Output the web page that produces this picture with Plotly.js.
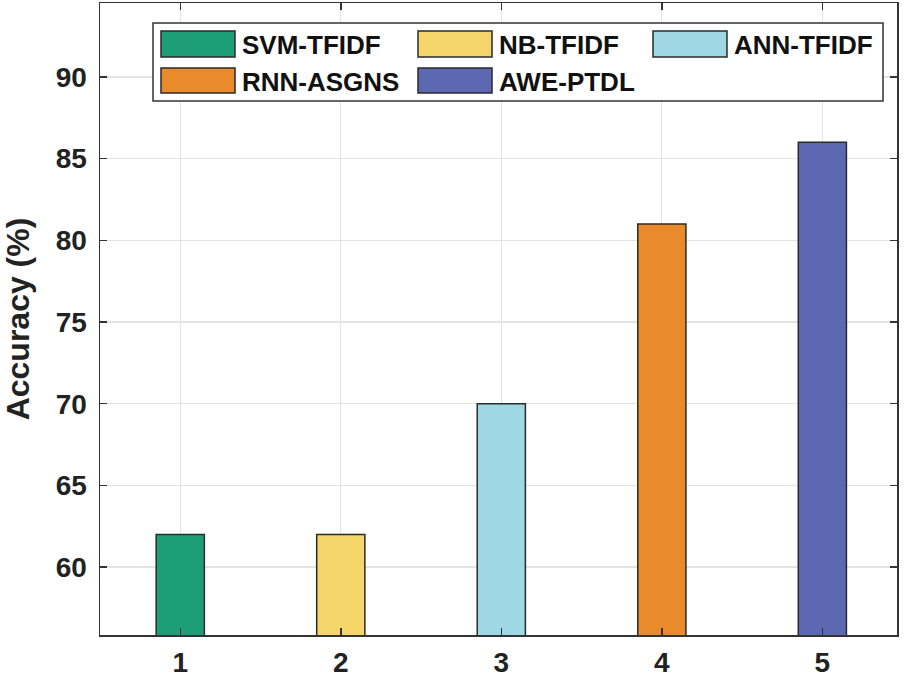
<!DOCTYPE html>
<html>
<head>
<meta charset="utf-8">
<script src="https://cdn.plot.ly/plotly-3.0.1.min.js"></script>
<style>html,body{margin:0;padding:0;background:#fff;}#chart{width:905px;height:681px;}</style>
</head>
<body>
<div id="chart"></div>
<script>
const methods = ["SVM-TFIDF", "NB-TFIDF", "ANN-TFIDF", "RNN-ASGNS", "AWE-PTDL"];
const positions = [1, 2, 3, 4, 5];
const accuracy = [62, 62, 70, 81, 86];
const colors = ["#1d9e76", "#f6d66b", "#9dd8e4", "#e98b2a", "#5c68b1"];
const xTickLabels = ["1", "2", "3", "4", "5"];
const yTicks = [60, 65, 70, 75, 80, 85, 90];

const W = 905, H = 681;
const L = 100, R = 897, T = 3, B = 635;
const px = x => (x - L) / (R - L);
const py = y => (B - y) / (B - T);

const FONT = "Liberation Sans, Arial, sans-serif";

const trace = {
  type: "bar",
  x: positions,
  y: accuracy,
  width: 0.3,
  marker: { color: colors, line: { color: "#2a2a2a", width: 1.5 } },
  showlegend: false,
  hoverinfo: "x+y"
};

// custom legend (large swatches like the reference)
const shapes = [{
  type: "rect", xref: "paper", yref: "paper",
  x0: px(153), x1: px(883), y0: py(101), y1: py(23),
  line: { color: "#333", width: 1.5 }, fillcolor: "#fff", layer: "above"
}];
const annotations = [];
const colX = [161, 418, 653];
const rowY = [[31, 57], [68, 93]];
methods.forEach((m, i) => {
  const c = i % 3, r = Math.floor(i / 3);
  shapes.push({
    type: "rect", xref: "paper", yref: "paper",
    x0: px(colX[c]), x1: px(colX[c] + 74), y0: py(rowY[r][1]), y1: py(rowY[r][0]),
    line: { color: "#2a2a2a", width: 1.5 }, fillcolor: colors[i], layer: "above"
  });
  annotations.push({
    xref: "paper", yref: "paper",
    x: px(colX[c] + 79), y: py((rowY[r][0] + rowY[r][1]) / 2 + 1),
    xanchor: "left", yanchor: "middle", showarrow: false,
    text: m, font: { family: FONT, size: 26, weight: "bold", color: "#111" }
  });
});

const layout = {
  width: W, height: H,
  margin: { l: L, r: W - R, t: T, b: H - B, pad: 0 },
  paper_bgcolor: "#fff", plot_bgcolor: "#fff",
  font: { family: FONT, weight: "bold", color: "#222" },
  bargap: 0,
  xaxis: {
    range: [0.5, 5.465],
    tickvals: positions, ticktext: xTickLabels,
    ticks: "inside", ticklen: 7, tickwidth: 1.5, tickcolor: "#333",
    showline: true, linecolor: "#333", linewidth: 1.5, mirror: "ticks",
    showgrid: true, gridcolor: "#e3e3e3", gridwidth: 1.2,
    zeroline: false,
    tickfont: { family: FONT, size: 28, weight: "bold", color: "#222" },
    ticklabelstandoff: 2
  },
  yaxis: {
    range: [55.84, 94.53],
    tickvals: yTicks,
    ticks: "inside", ticklen: 7, tickwidth: 1.5, tickcolor: "#333",
    showline: true, linecolor: "#333", linewidth: 1.5, mirror: "ticks",
    showgrid: true, gridcolor: "#e3e3e3", gridwidth: 1.2,
    zeroline: false,
    tickfont: { family: FONT, size: 28, weight: "bold", color: "#222" },
    ticklabelstandoff: 6,
    title: { text: "Accuracy (%)", font: { family: FONT, size: 32, weight: "bold", color: "#222" }, standoff: 16 }
  },
  shapes: shapes,
  annotations: annotations
};

Plotly.newPlot("chart", [trace], layout, { displayModeBar: false, staticPlot: true });
</script>
</body>
</html>
